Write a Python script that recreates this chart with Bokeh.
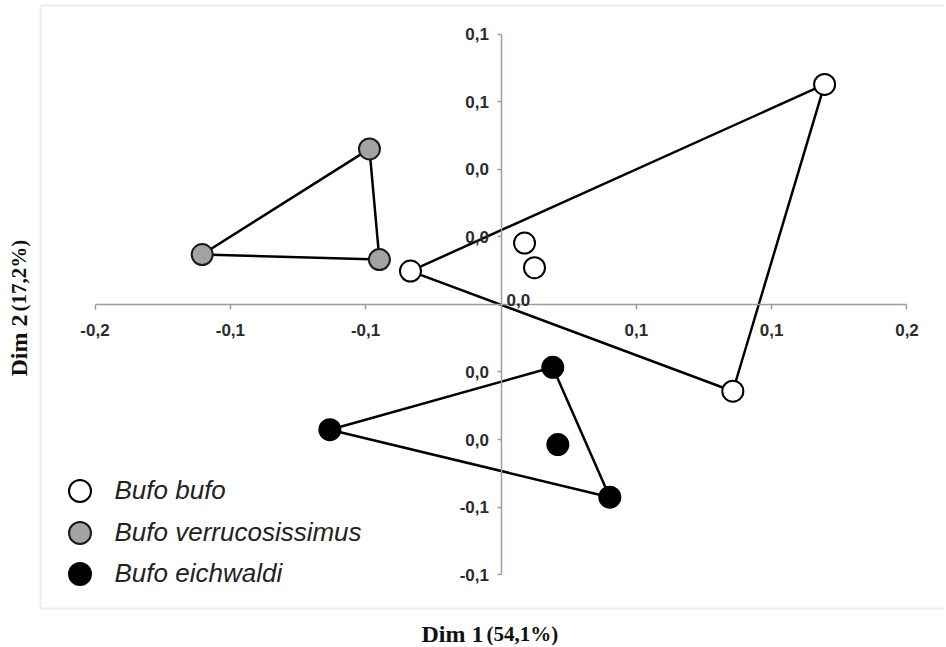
import math
from bokeh.plotting import figure
from bokeh.models import Range1d, LinearAxis, FixedTicker, Label, Legend, LegendItem, BoxAnnotation
from bokeh.embed import file_html
from bokeh.resources import INLINE

# ---- data ----
bufo_x = [-0.0446, 0.0116, 0.0165, 0.1594, 0.1142]
bufo_y = [0.0099, 0.0182, 0.0109, 0.0652, -0.0257]
bufo_hull = [0, 3, 4]

verr_x = [-0.0648, -0.1472, -0.0599]
verr_y = [0.0461, 0.0148, 0.0133]
verr_hull = [0, 1, 2]

eich_x = [0.0255, -0.0843, 0.0536, 0.0280]
eich_y = [-0.0186, -0.0371, -0.0571, -0.0415]
eich_hull = [0, 1, 2]

species = ["Bufo bufo", "Bufo verrucosissimus", "Bufo eichwaldi"]

x_ticks = [-0.2, -0.1333, -0.0667, 0.0667, 0.1333, 0.2]
x_tick_labels = ["-0,2", "-0,1", "-0,1", "0,1", "0,1", "0,2"]
y_ticks = [0.08, 0.06, 0.04, 0.02, -0.02, -0.04, -0.06, -0.08]
y_tick_labels = ["0,1", "0,1", "0,0", "0,0", "0,0", "0,0", "-0,1", "-0,1"]
origin_label = "0,0"

x_title = ["Dim 1", "(54,1%)"]
y_title = ["Dim 2", "(17,2%)"]

W, H = 944, 645
X0, X1 = -0.246552, 0.218473
Y0, Y1 = -0.101037, 0.090074
BOX_L, BOX_T, BOX_B = -0.226847, 0.088593, -0.090074

AX = "#a39b9b"
TXT = "#2b2b2b"
BORDER = "#c9c0c0"

p = figure(width=W, height=H, x_range=Range1d(X0, X1), y_range=Range1d(Y0, Y1),
           x_axis_location=None, y_axis_location=None, toolbar_location=None,
           output_backend="svg", min_border=0, min_border_left=0, min_border_right=0,
           min_border_top=0, min_border_bottom=0, outline_line_color=None,
           background_fill_color="white", border_fill_color="white")
p.grid.visible = False

p.add_layout(BoxAnnotation(left=BOX_L, right=X1 + 0.02, top=BOX_T, bottom=BOX_B,
                           fill_alpha=0, line_color=BORDER, line_width=2, level="underlay"))

common = dict(axis_line_color=AX, axis_line_width=1.5, major_tick_line_color=AX,
              major_tick_line_width=1.5, major_tick_in=0, minor_tick_line_color=None,
              major_label_text_font="Liberation Sans", major_label_text_font_style="bold",
              major_label_text_font_size="17px", major_label_text_color=TXT)

xaxis = LinearAxis(fixed_location=0, ticker=FixedTicker(ticks=x_ticks),
                   major_label_overrides=dict(zip(x_ticks, x_tick_labels)),
                   bounds=(-0.2, 0.2), major_tick_out=5, major_label_standoff=15, **common)
p.add_layout(xaxis, "below")

yaxis = LinearAxis(fixed_location=0, ticker=FixedTicker(ticks=y_ticks),
                   major_label_overrides=dict(zip(y_ticks, y_tick_labels)),
                   bounds=(-0.08, 0.08), major_tick_out=4, major_label_standoff=8, **common)
p.add_layout(yaxis, "left")

p.add_layout(Label(x=0, y=0, text=origin_label, x_offset=5.5, y_offset=4,
                   text_align="left", text_baseline="alphabetic",
                   text_font="Liberation Sans", text_font_style="bold",
                   text_font_size="17px", text_color=TXT))

for xs, ys, hull in [(bufo_x, bufo_y, bufo_hull), (verr_x, verr_y, verr_hull),
                     (eich_x, eich_y, eich_hull)]:
    p.patch([xs[i] for i in hull], [ys[i] for i in hull], fill_alpha=0,
            line_color="black", line_width=2.5)

r_bufo = p.scatter(bufo_x, bufo_y, size=21, fill_color="white", line_color="black", line_width=2)
r_verr = p.scatter(verr_x, verr_y, size=21, fill_color="#a3a3a3", line_color="#1a1a1a", line_width=2)
r_eich = p.scatter(eich_x, eich_y, size=21, fill_color="black", line_color="black", line_width=2)

for r, lab, ly in [(r_bufo, species[0], 127.5), (r_verr, species[1], 85.5), (r_eich, species[2], 44.5)]:
    leg = Legend(items=[LegendItem(label=lab, renderers=[r])], location=(51.5, ly),
                 glyph_width=55, glyph_height=55, label_standoff=8, padding=0, margin=0,
                 border_line_color=None, background_fill_alpha=0,
                 label_text_font="Liberation Sans", label_text_font_style="italic",
                 label_text_font_size="26px", label_text_color="#222222")
    p.add_layout(leg, "center")

title_style = dict(x_units="screen", y_units="screen", text_baseline="middle",
                   text_font="Liberation Serif", text_font_style="bold", text_color="#111111")
p.add_layout(Label(x=483, y=12, text=x_title[0], text_align="right", text_font_size="24px", **title_style))
p.add_layout(Label(x=486, y=12, text=x_title[1], text_align="left", text_font_size="21px", **title_style))
p.add_layout(Label(x=18, y=331, text=y_title[0], angle=math.pi / 2, text_align="right",
                   text_font_size="24px", **title_style))
p.add_layout(Label(x=18, y=334, text=y_title[1], angle=math.pi / 2, text_align="left",
                   text_font_size="21px", **title_style))

open("out.html", "w").write(file_html(p, INLINE))
